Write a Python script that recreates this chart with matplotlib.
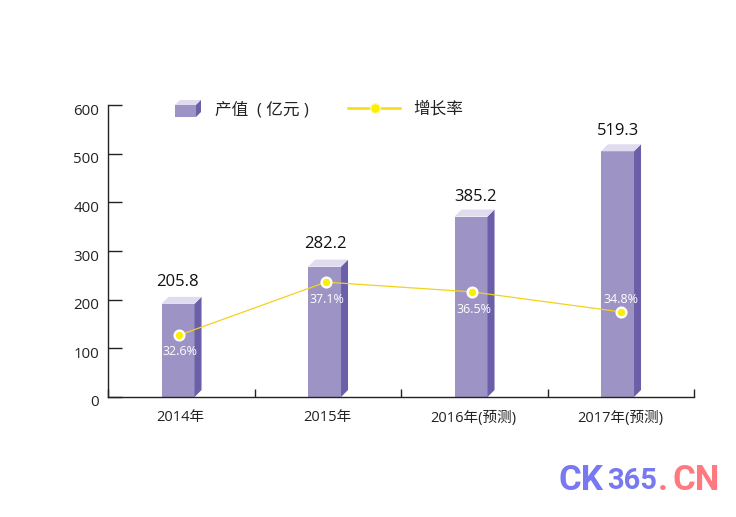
import matplotlib
matplotlib.use("Agg")
import matplotlib.pyplot as plt
from matplotlib.patches import Polygon, Rectangle
from matplotlib.lines import Line2D

plt.rcParams['font.family'] = ['Open Sans', 'Noto Sans CJK SC', 'DejaVu Sans']

categories = ['2014年', '2015年', '2016年(预测)', '2017年(预测)']
output_values = [205.8, 282.2, 385.2, 519.3]
growth_labels = ['32.6%', '37.1%', '36.5%', '34.8%']
growth_heights = [127, 236, 216, 175]   # marker heights read against the left axis
y_ticks = [0, 100, 200, 300, 400, 500, 600]

FRONT, SIDE, TOP = '#9d93c4', '#6a5fa8', '#e0dbee'
LINE = '#f2d21b'
W, H = 736, 517
fig = plt.figure(figsize=(W/100, H/100), dpi=100, facecolor='white')
ax = fig.add_axes([108/W, 1-397/H, (694-108)/W, (397-105)/H])
ax.set_xlim(0, 4)
ax.set_ylim(0, 600)
for s in ('top', 'right'):
    ax.spines[s].set_visible(False)
for s in ('left', 'bottom'):
    ax.spines[s].set_linewidth(1.0)
    ax.spines[s].set_color('#222222')

# 3D-look bars: the back edge of the top face sits at the value
dx, dy = 7/146.5, 14.4
bw = 33/146.5
value_offs = [(-4, 7), (-3, 8), (1, 5), (-3, 5)]
for i, v in enumerate(output_values):
    xl = i + 0.478 - bw/2
    xr = xl + bw
    ax.bar(xl, v-dy, width=bw, align='edge', color=FRONT, linewidth=0, zorder=2)
    ax.add_patch(Polygon([(xr, 0), (xr+dx, dy), (xr+dx, v), (xr, v-dy)], closed=True,
                         fc=SIDE, ec='none', zorder=2))
    ax.add_patch(Polygon([(xl, v-dy), (xr, v-dy), (xr+dx, v), (xl+dx, v)], closed=True,
                         fc=TOP, ec='none', zorder=2))
    ax.annotate(f'{v:.1f}', (i+0.478+dx/2, v), xytext=value_offs[i], textcoords='offset pixels',
                ha='center', va='bottom', fontsize=12, color='#111111', zorder=5)

# growth line
xs = [i + o for i, o in enumerate([0.485, 0.488, 0.485, 0.50])]
ax.plot(xs, growth_heights, color=LINE, lw=0.9, zorder=3)
ax.plot(xs, growth_heights, ls='none', marker='o', ms=7, mfc='#fbee00', mec='white',
        mew=1.7, zorder=4)
offs = [(1, -16), (1, -17), (2, -18), (0, 12)]
for x, y, t, o in zip(xs, growth_heights, growth_labels, offs):
    ax.annotate(t, (x, y), xytext=o, textcoords='offset pixels', ha='center', va='center',
                fontsize=9, color='white', zorder=5)

# axes ticks
ax.set_yticks(y_ticks)
ax.set_yticklabels([])
ax.set_xticks(range(5))
ax.set_xticklabels([])
ax.tick_params(axis='y', direction='in', length=10, width=1.0, color='#222222')
ax.tick_params(axis='x', direction='in', length=6, width=1.0, color='#222222')
for t in y_ticks:
    ax.annotate(str(t), (0, t), xytext=(-9, -6), textcoords='offset pixels', ha='right',
                va='center', fontsize=10.8, color='#222222', annotation_clip=False)
for i, c in enumerate(categories):
    ax.annotate(c, (i+0.5, 0), xytext=(-0.5, -21), textcoords='offset pixels', ha='center',
                va='center', fontsize=10.5, color='#222222', annotation_clip=False)

# legend
fx = lambda p: p/W
fy = lambda p: 1-p/H
fig.add_artist(Rectangle((fx(175), fy(117)), 21/W, 12/H, transform=fig.transFigure, fc=FRONT, ec='none'))
fig.add_artist(Polygon([(fx(175), fy(105)), (fx(196), fy(105)), (fx(201), fy(100)), (fx(180), fy(100))],
                       closed=True, transform=fig.transFigure, fc=TOP, ec='none'))
fig.add_artist(Polygon([(fx(196), fy(105)), (fx(201), fy(100)), (fx(201), fy(112)), (fx(196), fy(117))],
                       closed=True, transform=fig.transFigure, fc=SIDE, ec='none'))
fig.text(fx(215), fy(110), '产值  ( 亿元 )', fontsize=12, color='#222222', va='center', ha='left')
fig.add_artist(Line2D([fx(348), fx(400)], [fy(108), fy(108)], transform=fig.transFigure, color='#f5dc10', lw=1.8))
fig.add_artist(Line2D([fx(375)], [fy(108)], transform=fig.transFigure, marker='o', ms=7,
                      mfc='#fbee00', mec='#fdf8b0', mew=1.0))
fig.text(fx(413), fy(110), '增长率', fontsize=12, color='#222222', va='center', ha='left')

# watermark
wm = dict(fontweight='bold', va='center', ha='left')
fig.text(fx(558), fy(481), 'CK', color='#7878f2', fontsize=25, family=['Roboto', 'DejaVu Sans'], **wm)
fig.text(fx(607), fy(481), '365', color='#7878f2', fontsize=21, family=['Roboto', 'DejaVu Sans'], **wm)
fig.text(fx(658), fy(481), '.', color='#ff7a80', fontsize=25, family=['Roboto', 'DejaVu Sans'], **wm)
fig.text(fx(672), fy(481), 'CN', color='#ff7a80', fontsize=25, family=['Roboto', 'DejaVu Sans'], **wm)

fig.savefig('out.png', dpi=100, facecolor='white')
